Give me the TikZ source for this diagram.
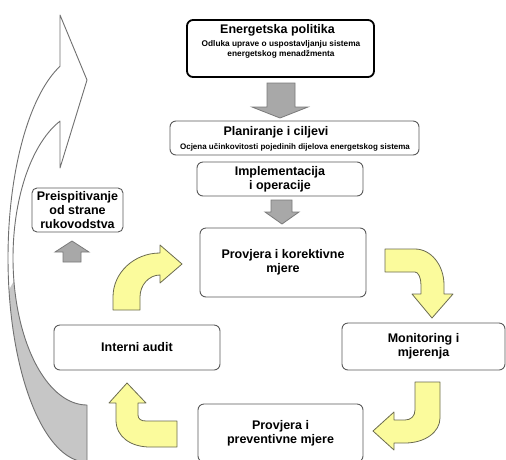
\documentclass[tikz,border=0pt]{standalone}
\usepackage{fontspec}
\setmainfont{Liberation Sans}
\definecolor{ylw}{HTML}{FBFB9C}
\definecolor{ylwd}{HTML}{6B6B50}
\definecolor{gfill}{HTML}{A8A8A8}
\definecolor{gdraw}{HTML}{7A7A7A}
\definecolor{bdr}{HTML}{5A5A5A}
\definecolor{rib}{HTML}{C6C6C6}
\definecolor{ribd}{HTML}{707070}
\begin{document}
\begin{tikzpicture}[x=1pt,y=-1pt,
 box/.style={draw=bdr, line width=0.9pt, fill=white, rounded corners=6pt, inner sep=0pt},
 lbl/.style={font=\bfseries\fontsize{12.5}{14}\selectfont, align=center, inner sep=0pt},
 sub/.style={font=\bfseries\fontsize{8.3}{10}\selectfont, align=center, inner sep=0pt},
 yarr/.style={fill=ylw, draw=ylwd, line width=0.8pt, line join=round},
 garr/.style={fill=gfill, draw=gdraw, line width=0.8pt},
]
\clip (0,0) rectangle (506,459);
\fill[white] (0,0) rectangle (506,459);
% big ribbon arrow on the left
\fill[white] (60,15) -- (87,80) -- (60,168) -- (60,121.1)
  -- plot[domain=248.6:90, samples=80, variable=\t] ({87+74*cos(\t)},{258+147*sin(\t)})
  -- plot[domain=90:250, samples=80, variable=\t] ({87+79*cos(\t)},{258+204*sin(\t)}) -- cycle;
\fill[rib] plot[domain=90:171, samples=60, variable=\t] ({87+79*cos(\t)},{258+204*sin(\t)})
  -- plot[domain=171:90, samples=60, variable=\t] ({87+74*cos(\t)},{258+147*sin(\t)}) -- cycle;
\draw[ribd, line width=0.9pt, line join=round] (60,15) -- (87,80) -- (60,168) -- (60,121.1)
  -- plot[domain=248.6:90, samples=80, variable=\t] ({87+74*cos(\t)},{258+147*sin(\t)})
  -- plot[domain=90:250, samples=80, variable=\t] ({87+79*cos(\t)},{258+204*sin(\t)}) -- cycle;
% boxes
\node[box, draw=black, line width=1.8pt, minimum width=187pt, minimum height=57pt] (E) at (280.5,48.5) {};
\node[lbl] (Et) at (277.5,30) {Energetska politika};
\node[sub] (Es) at (281,49) {Odluka uprave o uspostavljanju sistema\\energetskog menadžmenta};
\node[box, minimum width=249pt, minimum height=34pt] (P) at (294.5,138) {};
\node[lbl] (Pt) at (276,132) {Planiranje i ciljevi};
\node[sub, font=\bfseries\fontsize{8}{10}\selectfont] (Ps) at (295,147) {Ocjena učinkovitosti pojedinih dijelova energetskog sistema};
\node[box, lbl, minimum width=166pt, minimum height=34pt] (I) at (280,179) {Implementacija\\i operacije};
\node[box, lbl, minimum width=166pt, minimum height=69pt] (K) at (283,262.5) {Provjera i korektivne\\mjere};
\node[box, lbl, minimum width=163pt, minimum height=47pt] (M) at (423.5,346.5) {Monitoring i\\mjerenja};
\node[box, lbl, minimum width=166pt, minimum height=45pt] (A) at (137,347.5) {Interni audit};
\node[box, lbl, minimum width=165pt, minimum height=58pt] (V) at (280.5,433) {Provjera i\\preventivne mjere};
\node[box, lbl, rounded corners=5pt, minimum width=91pt, minimum height=44pt] (R) at (77.5,210) {Preispitivanje\\od strane\\rukovodstva};
% gray block arrows
\draw[garr] (267,83) -- (295,83) -- (295,107) -- (308,107) -- (280,118) -- (252,107) -- (267,107) -- cycle;
\draw[garr] (271,200) -- (292,200) -- (292,212) -- (299,212) -- (282,224) -- (265,212) -- (271,212) -- cycle;
\draw[garr] (63,262) -- (81,262) -- (81,252) -- (89,252) -- (72,241) -- (55,252) -- (63,252) -- cycle;
% yellow bent arrows
\draw[yarr] (113,310) -- (113,297) .. controls (113,272.7) and (134,253) .. (160,253) -- (160,245) -- (182,264) -- (160,283) -- (160,275) .. controls (149,275) and (140,284.9) .. (140,297) -- (140,310) -- cycle;
\draw[yarr] (385,249) -- (415,249) .. controls (431,249) and (444,265.1) .. (444,285) -- (444,294) -- (453,294) -- (432,318) -- (412,294) -- (421,294) -- (421,285) .. controls (421,277.8) and (418.3,272) .. (415,272) -- (385,272) -- cycle;
\draw[yarr] (415,382) -- (440,382) -- (440,418) .. controls (440,432) and (425,443) .. (405,443) -- (394,443) -- (394,450) -- (373,431) -- (394,412) -- (394,420) -- (405,420) .. controls (411,420) and (415,416) .. (415,410) -- cycle;
\draw[yarr] (177,421) -- (177,447) -- (150,447) .. controls (131,447) and (116,437) .. (116,420) -- (116,403) -- (109,403) -- (127,383) -- (146,403) -- (138,403) -- (138,415) .. controls (138,419) and (141,421) .. (146,421) -- cycle;
\end{tikzpicture}
\end{document}
